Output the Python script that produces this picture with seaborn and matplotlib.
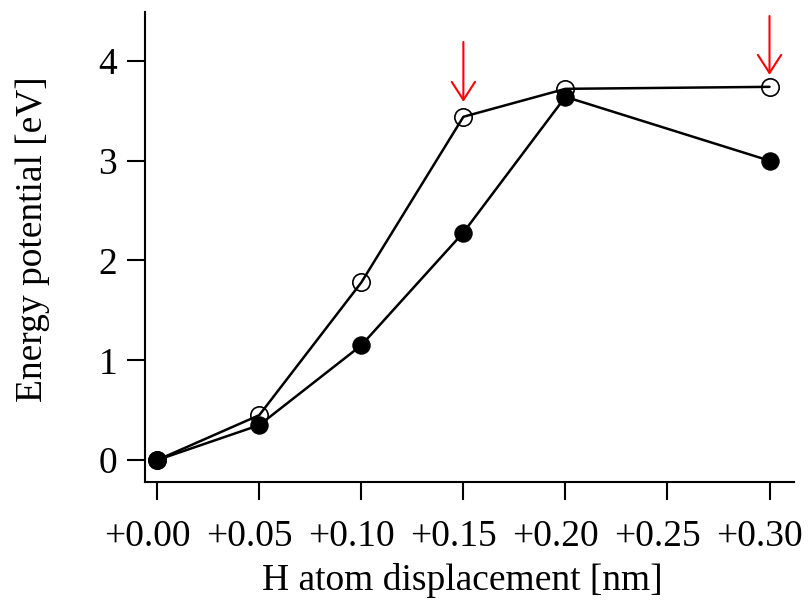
import matplotlib
matplotlib.use("Agg")
import matplotlib.pyplot as plt
import matplotlib.transforms as mtransforms
import seaborn as sns
import pandas as pd

# H atom displacement [nm]
displacement = [0.00, 0.05, 0.10, 0.15, 0.20, 0.30]
# energy potential [eV], open and filled markers
energy_open = [0.00, 0.45, 1.78, 3.44, 3.72, 3.74]
energy_filled = [0.00, 0.35, 1.15, 2.28, 3.64, 3.00]
tick_vals = [0.00, 0.05, 0.10, 0.15, 0.20, 0.25, 0.30]
tick_labels = ["+0.00", "+0.05", "+0.10", "+0.15", "+0.20", "+0.25", "+0.30"]
# arrows marking points (x, tip y, tail y)
arrow_x = [0.15, 0.30]
arrow_tip = [3.59, 3.86]
arrow_tail = [4.19, 4.45]

sns.set_style("ticks")
plt.rcParams['font.family'] = ['Liberation Serif', 'DejaVu Serif']

df = pd.DataFrame({"x": displacement, "open": energy_open, "filled": energy_filled})

fig = plt.figure(figsize=(8.08, 6.05), dpi=100)
ax = fig.add_axes([145/808, 1-482/605, (794-145)/808, (482-12)/605])

sns.lineplot(data=df, x="x", y="open", ax=ax, color="black", lw=1.8, sort=False,
             marker="o", markersize=12.5, markerfacecolor="none",
             markeredgecolor="black", markeredgewidth=1.2, zorder=2)
sns.lineplot(data=df, x="x", y="filled", ax=ax, color="black", lw=1.8, sort=False,
             marker="o", markersize=12.5, markerfacecolor="black",
             markeredgecolor="black", zorder=3)

for x, tip, tail in zip(arrow_x, arrow_tip, arrow_tail):
    ax.annotate("", xy=(x, tip), xytext=(x, tail),
                arrowprops=dict(arrowstyle="->,head_length=0.65,head_width=0.42",
                                color="red", lw=1.5, mutation_scale=20,
                                shrinkA=0, shrinkB=0))

ax.set_xlim(-0.006, 0.312)
ax.set_ylim(-0.22, 4.49)
ax.set_xticks(tick_vals)
ax.set_xticklabels(tick_labels)
ax.set_yticks([0, 1, 2, 3, 4])
ax.tick_params(axis="both", direction="out", length=13, width=1.5,
               labelsize=27, colors="black")
ax.tick_params(axis="x", pad=14)
ax.tick_params(axis="y", pad=7)

# numbers centred under the ticks, the sign hanging out to the left
shift = mtransforms.ScaledTranslation(-10/100, 0, fig.dpi_scale_trans)
for lab in ax.get_xticklabels():
    lab.set_transform(lab.get_transform() + shift)

for s in ["top", "right"]:
    ax.spines[s].set_visible(False)
for s in ["left", "bottom"]:
    ax.spines[s].set_linewidth(1.5)
    ax.spines[s].set_color("black")

ax.set_xlabel("H atom displacement [nm]", fontsize=27, color="black")
ax.set_ylabel("Energy potential [eV]", fontsize=27, color="black")
ax.xaxis.set_label_coords(0.489, -0.173)
ax.yaxis.set_label_coords(-0.146, 0.517)

fig.savefig("out.png", dpi=100)
